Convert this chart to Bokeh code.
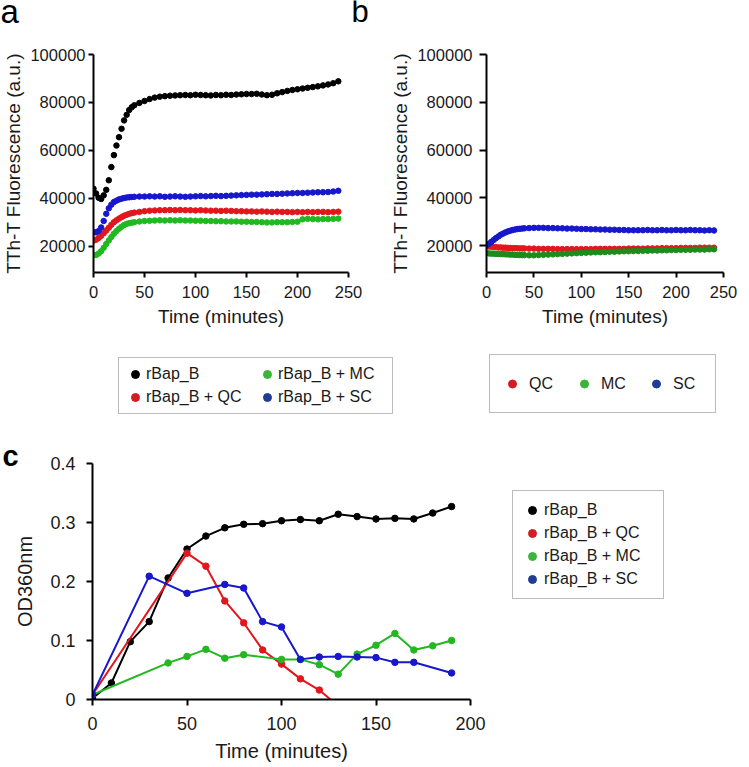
from bokeh.plotting import figure
from bokeh.models import Legend, LegendItem, FixedTicker, Label, BasicTickFormatter
from bokeh.layouts import column, row
from bokeh.embed import file_html
from bokeh.resources import INLINE

FONT = "Liberation Sans"
TXT = "#1a1a1a"
BLACK = "#000000"
RED = "#e3161d"
GREEN = "#22b822"
GREEN_B = "#1c8c1c"
BLUE = "#1717cc"
# legend swatch colours (slightly different shades in the reference legends)
L_RED = "#d41c24"
L_GREEN = "#3cb43c"
L_BLUE = "#1f3c96"

# ---------------- panel a / b : ThT fluorescence (a.u.) vs time (minutes)
t_ab = [0, 2.5, 5, 7.5, 10, 12.5, 15, 17.5, 20, 22.5, 25, 27.5, 30, 32.5, 35, 37.5, 40,
        45, 50, 55, 60, 65, 70, 75, 80, 85, 90,
        95, 100, 105, 110, 115, 120, 125, 130, 135, 140,
        145, 150, 155, 160, 165, 170, 175, 180, 185, 190,
        195, 200, 205, 210, 215, 220, 225, 230, 235, 240]

a_rbap = [44000, 42000, 40200, 39700, 41200, 43500, 47500, 53000, 58000, 62000, 65500, 69000, 72500, 74800, 76800, 78000, 78800,
          79800, 80600, 81400, 82000, 82400, 82600, 82800, 82900, 83000, 83100,
          83000, 83200, 83100, 83000, 82900, 83100, 83000, 83200, 83100, 83300,
          83400, 83500, 83500, 83600, 83300, 83000, 83200, 83800, 84300, 84800,
          85200, 85500, 85800, 86100, 86400, 86700, 87100, 87500, 88000, 88800]
a_qc = [22300, 22700, 23400, 24300, 25400, 26500, 27700, 28900, 30000, 30800, 31500, 32100, 32700, 33100, 33500, 33800, 34000,
        34300, 34600, 34800, 34900, 35000, 35000, 35100, 35000, 35100, 35000,
        35000, 34900, 35000, 34900, 34800, 34800, 34700, 34800, 34700, 34600,
        34600, 34500, 34500, 34400, 34500, 34400, 34300, 34400, 34300, 34300,
        34200, 34300, 34200, 34300, 34200, 34300, 34300, 34200, 34300, 34400]
a_mc = [16200, 16300, 16900, 17900, 19300, 20900, 22400, 23800, 25200, 26300, 27300, 28100, 28800, 29300, 29600, 29800, 30000,
        30300, 30500, 30600, 30700, 30800, 30700, 30800, 30700, 30800, 30700,
        30700, 30600, 30600, 30500, 30500, 30400, 30400, 30300, 30300, 30300,
        30200, 30200, 30100, 30100, 30000, 29900, 29900, 30000, 30000, 30000,
        30100, 30200, 31200, 31400, 31300, 31200, 31300, 31300, 31400, 31500]
a_sc = [25700, 25800, 26300, 27800, 30500, 33500, 35800, 37300, 38400, 39000, 39500, 39800, 40100, 40300, 40400, 40500, 40600,
        40700, 40700, 40800, 40700, 40800, 40600, 40700, 40800, 40700, 40600,
        40700, 40800, 40900, 40800, 40900, 41000, 40900, 41000, 41100, 41200,
        41300, 41400, 41500, 41500, 41600, 41700, 41800, 41800, 41900, 42000,
        42100, 42200, 42200, 42300, 42400, 42500, 42500, 42600, 42800, 43100]

b_qc = [19700, 19600, 19500, 19400, 19300, 19200, 19200, 19100, 19100, 19000, 19000, 18900, 18900, 18900, 18800, 18800, 18800,
        18700, 18700, 18600, 18600, 18600, 18600, 18500, 18500, 18500, 18500,
        18500, 18500, 18500, 18500, 18600, 18600, 18600, 18600, 18600, 18600,
        18600, 18700, 18700, 18700, 18700, 18800, 18800, 18800, 18900, 18900,
        18900, 18900, 19000, 19000, 19000, 19000, 19100, 19100, 19100, 19100]
b_mc = [16800, 16700, 16600, 16600, 16500, 16500, 16400, 16400, 16300, 16300, 16200, 16200, 16100, 16100, 16000, 16000, 16000,
        15900, 15900, 16000, 16100, 16200, 16300, 16400, 16500, 16600, 16700,
        16800, 16900, 17000, 17100, 17200, 17200, 17300, 17400, 17400, 17500,
        17600, 17600, 17700, 17700, 17800, 17800, 17900, 17900, 18000, 18000,
        18100, 18100, 18200, 18200, 18200, 18300, 18300, 18300, 18400, 18400]
b_sc = [20100, 20700, 21500, 22300, 23100, 23800, 24500, 25000, 25500, 25900, 26200, 26500, 26700, 26900, 27000, 27100, 27200,
        27300, 27400, 27400, 27400, 27300, 27300, 27200, 27200, 27100, 27100,
        27000, 26900, 26900, 26800, 26800, 26700, 26700, 26600, 26600, 26500,
        26500, 26400, 26400, 26400, 26400, 26500, 26400, 26400, 26500, 26400,
        26400, 26500, 26400, 26400, 26500, 26400, 26400, 26300, 26400, 26300]

ab_xticks = [0, 50, 100, 150, 200, 250]
ab_yticks = [20000, 40000, 60000, 80000, 100000]

# ---------------- panel c : OD360nm vs time (minutes)
c_t_rbap = [0, 10, 20, 30, 40, 50, 60, 70, 80, 90, 100, 110, 120, 130, 140, 150, 160, 170, 180, 190]
c_rbap = [0.002, 0.028, 0.098, 0.132, 0.206, 0.255, 0.277, 0.291, 0.297, 0.298, 0.303, 0.305, 0.303, 0.314, 0.310,
          0.306, 0.307, 0.306, 0.316, 0.327]
c_t_qc = [0, 50, 60, 70, 80, 90, 100, 110, 120, 130]
c_qc = [0.008, 0.248, 0.226, 0.167, 0.130, 0.084, 0.060, 0.035, 0.016, -0.011]
c_t_mc = [0, 40, 50, 60, 70, 80, 100, 110, 120, 130, 140, 150, 160, 170, 180, 190]
c_mc = [0.008, 0.062, 0.073, 0.085, 0.070, 0.076, 0.068, 0.068, 0.059, 0.043, 0.077, 0.092, 0.112, 0.084, 0.091, 0.100]
c_t_sc = [0, 30, 50, 70, 80, 90, 100, 110, 120, 130, 140, 150, 160, 170, 190]
c_sc = [0.008, 0.209, 0.180, 0.195, 0.189, 0.132, 0.123, 0.068, 0.072, 0.073, 0.072, 0.071, 0.063, 0.063, 0.045]
c_xticks = [0, 50, 100, 150, 200]
c_yticks = [0, 0.1, 0.2, 0.3, 0.4]

legend_a_labels = ["rBap_B", "rBap_B + QC", "rBap_B + MC", "rBap_B + SC"]
legend_b_labels = ["QC", "MC", "SC"]


def style(p, tick_px, label_px, tick_out, tick_standoff):
    p.outline_line_color = None
    p.xgrid.visible = False
    p.ygrid.visible = False
    p.background_fill_color = "white"
    p.border_fill_color = "white"
    for ax in (p.xaxis[0], p.yaxis[0]):
        ax.axis_line_width = 2
        ax.axis_line_color = "black"
        ax.major_tick_line_width = 2
        ax.major_tick_line_color = "black"
        ax.major_tick_out = tick_out
        ax.major_tick_in = 0
        ax.minor_tick_line_color = None
        ax.major_label_text_font = FONT
        ax.major_label_text_font_size = tick_px
        ax.major_label_text_color = TXT
        ax.major_label_standoff = tick_standoff
        ax.axis_label_text_font = FONT
        ax.axis_label_text_font_size = label_px
        ax.axis_label_text_font_style = "normal"
        ax.axis_label_text_color = TXT


def blank(width, height, xr, yr):
    p = figure(width=width, height=height, x_range=xr, y_range=yr, title=None,
               min_border=0, x_axis_location=None, y_axis_location=None,
               output_backend="svg", toolbar_location=None)
    p.outline_line_color = None
    p.grid.visible = False
    p.background_fill_color = "white"
    p.border_fill_color = "white"
    return p


def style_legend(leg):
    leg.label_text_font = FONT
    leg.label_text_font_size = "16px"
    leg.label_text_color = TXT
    leg.border_line_color = "#7a7a7a"
    leg.border_line_width = 1.3
    leg.background_fill_color = "white"
    leg.background_fill_alpha = 1
    leg.margin = 0


def letter(p, x, y, txt, size):
    p.add_layout(Label(x=x, y=y, text=txt, text_font=FONT, text_font_size=size,
                       text_color="black", text_baseline="alphabetic"))


# ---------------- row 1 : panel letters a, b
top_strip = blank(749, 44, (0, 749), (0, 44))
letter(top_strip, 0, 33, "a", "33px")
letter(top_strip, 351, 33, "b", "31px")

# ---------------- figure a
pa = figure(width=387, height=291, x_range=(0, 250), y_range=(9000, 100000),
            min_border_left=92, min_border_right=39, min_border_top=10, min_border_bottom=63,
            output_backend="svg", toolbar_location=None)
style(pa, "16.5px", "19px", 5, 8)
pa.xaxis.ticker = FixedTicker(ticks=ab_xticks)
pa.yaxis.ticker = FixedTicker(ticks=ab_yticks)
pa.yaxis.formatter = BasicTickFormatter(use_scientific=False)
pa.xaxis.axis_label = "Time (minutes)"
pa.yaxis.axis_label = "TTh-T Fluorescence (a.u.)"
pa.xaxis.axis_label_standoff = 5
pa.yaxis.axis_label_standoff = 3
pa.yaxis.major_label_standoff = 3

for ys, col in ((a_rbap, BLACK), (a_qc, RED), (a_mc, GREEN), (a_sc, BLUE)):
    pa.scatter(t_ab, ys, size=5.5, color=col, line_color=col)

# ---------------- figure b
pb = figure(width=362, height=291, x_range=(0, 250), y_range=(8700, 100000),
            min_border_left=91, min_border_right=26, min_border_top=10, min_border_bottom=63,
            output_backend="svg", toolbar_location=None)
style(pb, "16.5px", "19px", 5, 8)
pb.xaxis.ticker = FixedTicker(ticks=ab_xticks)
pb.yaxis.ticker = FixedTicker(ticks=ab_yticks)
pb.yaxis.formatter = BasicTickFormatter(use_scientific=False)
pb.xaxis.axis_label = "Time (minutes)"
pb.yaxis.axis_label = "TTh-T Fluorescence (a.u.)"
pb.xaxis.axis_label_standoff = 5
pb.yaxis.axis_label_standoff = 3
pb.yaxis.major_tick_out = 7
pb.yaxis.major_label_standoff = 7

for ys, col in ((b_qc, RED), (b_mc, GREEN_B), (b_sc, BLUE)):
    pb.scatter(t_ab, ys, size=5.5, color=col, line_color=col)

# ---------------- row 3 : legends of panels a and b (swatch renderers lie outside this strip's view)
leg_strip = blank(749, 85, (-2, -1), (-2, -1))
sw_a = [leg_strip.scatter(t_ab, ys, size=8, color=c, line_color=c)
        for ys, c in ((a_rbap, BLACK), (a_qc, L_RED), (a_mc, L_GREEN), (a_sc, L_BLUE))]
leg_a = Legend(items=[LegendItem(label=lab, renderers=[r]) for lab, r in zip(legend_a_labels, sw_a)],
               orientation="vertical", nrows=2, location=(118, 6),
               glyph_width=20, glyph_height=20, label_height=20, label_width=108,
               label_standoff=1, spacing=3, padding=6)
style_legend(leg_a)
leg_strip.add_layout(leg_a)

sw_b = [leg_strip.scatter(t_ab, ys, size=8, color=c, line_color=c)
        for ys, c in ((b_qc, L_RED), (b_mc, L_GREEN), (b_sc, L_BLUE))]
leg_b = Legend(items=[LegendItem(label=lab, renderers=[r]) for lab, r in zip(legend_b_labels, sw_b)],
               orientation="horizontal", location=(489, 7),
               glyph_width=20, glyph_height=33, label_height=33, label_width=30,
               label_standoff=7, spacing=15, padding=12)
style_legend(leg_b)
leg_strip.add_layout(leg_b)

# ---------------- row 4 : figure c and its legend
pc = figure(width=500, height=347, x_range=(0, 200), y_range=(0, 0.4), title="c",
            min_border_left=92, min_border_right=30, min_border_top=43, min_border_bottom=68,
            output_backend="svg", toolbar_location=None)
style(pc, "18px", "20px", 6, 11)
pc.title.text_font = FONT
pc.title.text_font_size = "29px"
pc.title.text_font_style = "bold"
pc.title.text_color = "black"
pc.title.align = "left"
pc.title.offset = -90
pc.title.standoff = -16
pc.xaxis.ticker = FixedTicker(ticks=c_xticks)
pc.yaxis.ticker = FixedTicker(ticks=c_yticks)
pc.yaxis.major_label_overrides = {0: "0", 0.1: "0.1", 0.2: "0.2", 0.3: "0.3", 0.4: "0.4"}
pc.xaxis.axis_label = "Time (minutes)"
pc.yaxis.axis_label = "OD360nm"
pc.xaxis.axis_label_standoff = 7
pc.yaxis.axis_label_standoff = 11

for xs, ys, col in ((c_t_rbap, c_rbap, BLACK), (c_t_qc, c_qc, RED),
                    (c_t_mc, c_mc, GREEN), (c_t_sc, c_sc, BLUE)):
    pc.line(xs, ys, line_color=col, line_width=2)
    pc.scatter(xs, ys, size=6.5, color=col, line_color=col)

leg_c_fig = blank(249, 347, (-2, -1), (-2, -1))
sw_c = [leg_c_fig.scatter(xs, ys, size=8, color=c, line_color=c)
        for xs, ys, c in ((c_t_rbap, c_rbap, BLACK), (c_t_qc, c_qc, L_RED),
                          (c_t_mc, c_mc, L_GREEN), (c_t_sc, c_sc, L_BLUE))]
leg_c = Legend(items=[LegendItem(label=lab, renderers=[r]) for lab, r in zip(legend_a_labels, sw_c)],
               orientation="vertical", location=(12, 100),
               glyph_width=20, glyph_height=20, label_height=20, label_width=110,
               label_standoff=2, spacing=3, padding=9)
style_legend(leg_c)
leg_c_fig.add_layout(leg_c)

layout = column(top_strip, row(pa, pb), leg_strip, row(pc, leg_c_fig))
open("out.html", "w").write(file_html(layout, INLINE))
